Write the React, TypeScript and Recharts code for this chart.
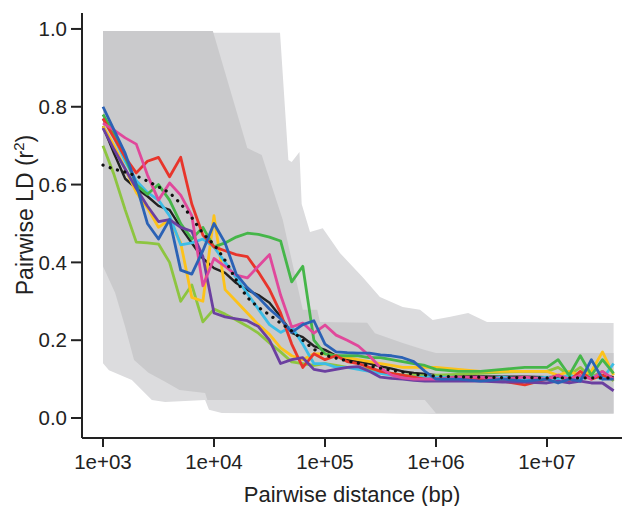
import React from "react"
import { Area, ComposedChart, Label, Line, XAxis, YAxis } from "recharts"

// distance bins (bp), log-spaced
const distBp = [
  1000, 1259, 1585, 1995, 2512, 3162, 3981, 5012, 6310, 7943,
  10000, 12589, 15849, 19953, 25119, 31623, 39811, 50119, 63096, 79433,
  100000, 125893, 158489, 199526, 251189, 316228, 398107, 501187, 630957, 794328,
  1000000, 1584893, 2511886, 3981072, 6309573, 10000000, 12589254, 15848932, 19952623, 25118864,
  31622777, 39810717,
]

const red = [
  0.77, 0.72, 0.67, 0.63, 0.66, 0.67, 0.62, 0.67, 0.55, 0.47,
  0.44, 0.43, 0.42, 0.415, 0.375, 0.33, 0.27, 0.19, 0.13, 0.165,
  0.15, 0.16, 0.145, 0.14, 0.13, 0.12, 0.115, 0.11, 0.105, 0.1,
  0.1, 0.105, 0.1, 0.095, 0.085, 0.1, 0.11, 0.095, 0.12, 0.1,
  0.11, 0.1,
]
const yellowGreen = [
  0.7, 0.625, 0.535, 0.452, 0.45, 0.447, 0.4, 0.3, 0.342, 0.247,
  0.28, 0.267, 0.252, 0.236, 0.218, 0.193, 0.17, 0.144, 0.14, 0.135,
  0.14, 0.135, 0.13, 0.128, 0.125, 0.12, 0.115, 0.11, 0.11, 0.108,
  0.11, 0.112, 0.115, 0.118, 0.12, 0.12, 0.13, 0.11, 0.13, 0.105,
  0.12, 0.095,
]
const green = [
  0.78, 0.73, 0.67, 0.6, 0.575, 0.6, 0.56, 0.5, 0.46, 0.49,
  0.44, 0.45, 0.465, 0.475, 0.472, 0.465, 0.455, 0.35, 0.39, 0.2,
  0.165, 0.16, 0.16, 0.16, 0.155, 0.155, 0.15, 0.145, 0.14, 0.135,
  0.125, 0.12, 0.12, 0.125, 0.13, 0.13, 0.15, 0.11, 0.16, 0.11,
  0.15, 0.115,
]
const blue = [
  0.8, 0.74, 0.68, 0.6, 0.5, 0.46, 0.51, 0.38, 0.37, 0.43,
  0.5, 0.45, 0.37, 0.335, 0.31, 0.28, 0.255, 0.22, 0.24, 0.25,
  0.19, 0.17, 0.168, 0.167, 0.167, 0.162, 0.16, 0.155, 0.145, 0.12,
  0.1, 0.1, 0.095, 0.1, 0.095, 0.1, 0.09, 0.1, 0.095, 0.15,
  0.1, 0.1,
]
const cyan = [
  0.77, 0.72, 0.66, 0.61, 0.58, 0.56, 0.52, 0.445, 0.45, 0.46,
  0.44, 0.4, 0.36, 0.32, 0.28, 0.24, 0.22, 0.235, 0.19, 0.14,
  0.14, 0.13, 0.13, 0.125, 0.12, 0.115, 0.11, 0.108, 0.105, 0.105,
  0.105, 0.105, 0.1, 0.105, 0.1, 0.105, 0.1, 0.11, 0.1, 0.11,
  0.1, 0.14,
]
const yellow = [
  0.75, 0.7, 0.64, 0.58, 0.54, 0.49, 0.51, 0.45, 0.31, 0.3,
  0.52, 0.33, 0.3, 0.27, 0.24, 0.215, 0.18, 0.16, 0.15, 0.165,
  0.165, 0.16, 0.155, 0.15, 0.145, 0.14, 0.135, 0.13, 0.13, 0.13,
  0.13, 0.125, 0.12, 0.12, 0.12, 0.12, 0.11, 0.12, 0.11, 0.12,
  0.17, 0.11,
]
const purple = [
  0.745, 0.69, 0.64, 0.59, 0.545, 0.505, 0.51, 0.49, 0.48, 0.415,
  0.27, 0.26, 0.255, 0.25, 0.235, 0.2, 0.14, 0.15, 0.155, 0.125,
  0.12, 0.125, 0.13, 0.132, 0.12, 0.105, 0.102, 0.1, 0.097, 0.095,
  0.095, 0.095, 0.095, 0.092, 0.092, 0.09, 0.095, 0.09, 0.095, 0.09,
  0.09, 0.07,
]
const magenta = [
  0.758, 0.74, 0.72, 0.704, 0.625, 0.56, 0.604, 0.573, 0.52, 0.34,
  0.41, 0.39, 0.367, 0.36, 0.39, 0.42, 0.316, 0.234, 0.244, 0.218,
  0.239, 0.213, 0.2, 0.185, 0.16, 0.129, 0.11, 0.103, 0.1, 0.1,
  0.1, 0.105, 0.105, 0.1, 0.105, 0.1, 0.11, 0.1, 0.11, 0.1,
  0.12, 0.1,
]
const mean = [
  0.75, 0.68, 0.615, 0.59, 0.57, 0.545, 0.535, 0.49, 0.45, 0.41,
  0.385, 0.373, 0.347, 0.329, 0.316, 0.296, 0.26, 0.219, 0.208, 0.185,
  0.175, 0.16, 0.15, 0.145, 0.14, 0.133, 0.127, 0.12, 0.116, 0.113,
  0.11, 0.108, 0.107, 0.106, 0.106, 0.105, 0.106, 0.105, 0.108, 0.105,
  0.11, 0.105,
]
const fitted = [
  0.65, 0.64, 0.632, 0.622, 0.609, 0.594, 0.578, 0.55, 0.515, 0.475,
  0.445, 0.405, 0.355, 0.311, 0.285, 0.265, 0.244, 0.224, 0.2, 0.177,
  0.162, 0.154, 0.147, 0.141, 0.134, 0.128, 0.123, 0.118, 0.113, 0.11,
  0.108, 0.106, 0.105, 0.104, 0.104, 0.103, 0.103, 0.103, 0.103, 0.103,
  0.103, 0.103,
]

// outer (light) envelope
const outerDist = [
  1000, 1132, 1820, 2754, 3631, 8318, 9016, 11749, 39355, 46774,
  50119, 58884, 61660, 73282, 95499, 136458, 218776, 312608, 501187, 717794,
  933254, 1348963, 1949845, 2884032, 39810717,
]
const outerHi = [
  0.99, 0.99, 0.99, 0.99, 0.99, 0.99, 0.99, 0.99, 0.99, 0.663,
  0.658, 0.684, 0.55, 0.478, 0.488, 0.424, 0.362, 0.311, 0.285, 0.278,
  0.252, 0.26, 0.27, 0.247, 0.244,
]
const outerLo = [
  0.141, 0.123, 0.098, 0.046, 0.041, 0.046, 0.021, 0.013, 0.012, 0.012,
  0.012, 0.012, 0.012, 0.012, 0.012, 0.012, 0.012, 0.012, 0.011, 0.011,
  0.01, 0.01, 0.01, 0.01, 0.01,
]

// inner (dark) envelope
const innerDist = [
  1000, 1288, 1585, 1905, 2570, 3631, 4898, 8318, 8710, 9772,
  19953, 26915, 41687, 63096, 85114, 90157, 239883, 281838, 501187, 794328,
  1000000, 39810717,
]
const innerHi = [
  0.995, 0.995, 0.995, 0.995, 0.995, 0.995, 0.995, 0.995, 0.995, 0.995,
  0.694, 0.676, 0.509, 0.278, 0.278, 0.247, 0.245, 0.218, 0.193, 0.175,
  0.167, 0.167,
]
const innerLo = [
  0.39, 0.321, 0.234, 0.149, 0.116, 0.093, 0.072, 0.064, 0.046, 0.046,
  0.046, 0.046, 0.046, 0.046, 0.046, 0.046, 0.046, 0.046, 0.046, 0.046,
  0.012, 0.012,
]

const xTicks = [1e3, 1e4, 1e5, 1e6, 1e7]
const yTicks = [0, 0.2, 0.4, 0.6, 0.8, 1.0]

const series = [
  { key: "mean", color: "#222222", width: 2.4 },
  { key: "yellowGreen", color: "#8dc540", width: 2.8 },
  { key: "yellow", color: "#fcc21b", width: 2.8 },
  { key: "cyan", color: "#3cbde6", width: 2.8 },
  { key: "green", color: "#45b649", width: 2.8 },
  { key: "red", color: "#e8352b", width: 2.8 },
  { key: "purple", color: "#6b3fa0", width: 2.8 },
  { key: "magenta", color: "#e0489b", width: 2.8 },
  { key: "blue", color: "#2b62b5", width: 2.8 },
]

const lineRows = distBp.map((d, i) => ({
  d,
  red: red[i],
  yellowGreen: yellowGreen[i],
  green: green[i],
  blue: blue[i],
  cyan: cyan[i],
  yellow: yellow[i],
  purple: purple[i],
  magenta: magenta[i],
  mean: mean[i],
  fitted: fitted[i],
}))
const outerRows = outerDist.map((d, i) => ({ d, band: [outerLo[i], outerHi[i]] }))
const innerRows = innerDist.map((d, i) => ({ d, band: [innerLo[i], innerHi[i]] }))

const font = "'Liberation Sans', Arial, Helvetica, sans-serif"
const ink = "#222222"

const fmtX = (v: number) => "1e+0" + Math.round(Math.log10(v))

export default function App() {
  return (
    <div style={{ position: "absolute", left: 0, top: 0, width: 626, height: 506, background: "#fff", fontFamily: font }}>
      <ComposedChart width={626} height={506} margin={{ top: 13, right: 4, bottom: 0, left: 0 }}>
        <XAxis
          dataKey="d"
          type="number"
          scale="log"
          domain={[647, 47400000]}
          allowDataOverflow
          ticks={xTicks}
          tickFormatter={fmtX}
          height={68}
          tickSize={9}
          tickMargin={7}
          axisLine={{ stroke: ink, strokeWidth: 2 }}
          tickLine={{ stroke: ink, strokeWidth: 2 }}
          tick={{ fill: ink, fontSize: 20.5, fontFamily: font }}
        >
          <Label
            content={({ viewBox }: any) => (
              <text
                x={viewBox.x + viewBox.width / 2}
                y={502}
                textAnchor="middle"
                fill={ink}
                fontSize={22}
                fontFamily={font}
              >
                Pairwise distance (bp)
              </text>
            )}
          />
        </XAxis>
        <YAxis
          type="number"
          domain={[-0.0514, 1.041]}
          allowDataOverflow
          ticks={yTicks}
          tickFormatter={(v: number) => v.toFixed(1)}
          width={82}
          tickSize={11}
          tickMargin={4}
          axisLine={{ stroke: ink, strokeWidth: 2 }}
          tickLine={{ stroke: ink, strokeWidth: 2 }}
          tick={{ fill: ink, fontSize: 20.5, fontFamily: font }}
        >
          <Label
            content={() => (
              <text
                x={33}
                y={215}
                transform="rotate(-90 33 215)"
                textAnchor="middle"
                fill={ink}
                fontSize={23}
                fontFamily={font}
              >
                Pairwise LD (r
                <tspan dy={-9} fontSize={15}>2</tspan>
                <tspan dy={9}>)</tspan>
              </text>
            )}
          />
        </YAxis>
        <Area
          data={outerRows}
          dataKey="band"
          type="linear"
          stroke="none"
          fill="#dcdcde"
          fillOpacity={1}
          dot={false}
          activeDot={false}
          isAnimationActive={false}
        />
        <Area
          data={innerRows}
          dataKey="band"
          type="linear"
          stroke="none"
          fill="#cacacc"
          fillOpacity={1}
          dot={false}
          activeDot={false}
          isAnimationActive={false}
        />
        {series.map((s) => (
          <Line
            key={s.key}
            data={lineRows}
            dataKey={s.key}
            type="linear"
            stroke={s.color}
            strokeWidth={s.width}
            strokeLinejoin="round"
            dot={false}
            activeDot={false}
            isAnimationActive={false}
          />
        ))}
        <Line
          data={lineRows}
          dataKey="fitted"
          type="monotone"
          stroke="#111111"
          strokeWidth={3.2}
          strokeDasharray="0.1 7.5"
          strokeLinecap="round"
          dot={false}
          activeDot={false}
          isAnimationActive={false}
        />
      </ComposedChart>
    </div>
  )
}
